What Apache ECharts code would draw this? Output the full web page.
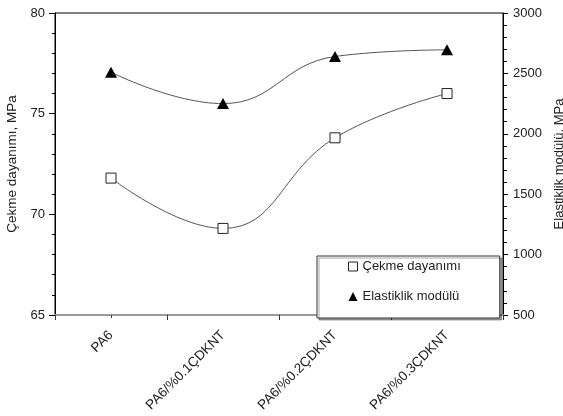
<!DOCTYPE html>
<html>
<head>
<meta charset="utf-8">
<script src="https://cdn.jsdelivr.net/npm/echarts@6/dist/echarts.min.js"></script>
<style>
html,body{margin:0;padding:0;background:#fff;}
#chart{width:563px;height:416px;}
</style>
</head>
<body>
<div id="chart"></div>
<script>
const categories = ['PA6', 'PA6/%0.1ÇDKNT', 'PA6/%0.2ÇDKNT', 'PA6/%0.3ÇDKNT'];
const cekmeDayanimi = [71.8, 69.3, 73.8, 76.0];
const elastiklikModulu = [2510, 2250, 2640, 2695];
const leftTicks = { min: 65, max: 80, interval: 5 };
const rightTicks = { min: 500, max: 3000, interval: 500 };
const seriesNames = ['Çekme dayanımı', 'Elastiklik modülü'];
const axisNames = ['Çekme dayanımı, MPa', 'Elastiklik modülü, MPa'];

const FONT = 'Liberation Sans, Arial, sans-serif';
const TXT = '#222';

const chart = echarts.init(document.getElementById('chart'), null, { renderer: 'canvas' });
chart.setOption({
  animation: false,
  backgroundColor: '#fff',
  textStyle: { fontFamily: FONT, color: TXT },
  grid: {
    left: 55, right: 60, top: 13, bottom: 101,
    containLabel: false, outerBoundsMode: 'none',
    show: true, borderColor: '#000', borderWidth: 1, backgroundColor: 'transparent'
  },
  legend: {
    orient: 'vertical',
    left: 317, top: 256,
    padding: [4, 39, 15, 31],
    itemGap: 17,
    itemWidth: 9, itemHeight: 9,
    backgroundColor: '#fff',
    borderColor: '#333', borderWidth: 1,
    shadowColor: 'rgba(0,0,0,0.35)', shadowOffsetX: 2, shadowOffsetY: 2, shadowBlur: 0,
    textStyle: { fontFamily: FONT, fontSize: 13, color: TXT },
    data: [
      { name: seriesNames[0], icon: 'rect', itemStyle: { color: '#fff', borderColor: '#222', borderWidth: 1 } },
      { name: seriesNames[1], icon: 'triangle', itemStyle: { color: '#000', borderWidth: 0 } }
    ]
  },
  xAxis: [{
    type: 'category',
    data: categories,
    boundaryGap: true,
    axisLine: { show: true, lineStyle: { color: '#999', width: 2 } },
    axisTick: { show: true, length: 5, lineStyle: { color: '#333' } },
    axisLabel: { rotate: 45, margin: 18, fontSize: 13.5, color: TXT, fontFamily: FONT, interval: 0, hideOverlap: false },
    splitLine: { show: false }
  }, {
    type: 'category',
    data: categories,
    position: 'bottom',
    boundaryGap: true,
    axisLine: { show: false },
    axisTick: { show: true, alignWithLabel: true, length: 3, lineStyle: { color: '#333' } },
    axisLabel: { show: false },
    splitLine: { show: false }
  }],
  yAxis: [{
    type: 'value',
    min: leftTicks.min, max: leftTicks.max, interval: leftTicks.interval,
    position: 'left',
    name: axisNames[0],
    nameLocation: 'middle',
    nameGap: 36,
    nameRotate: 90,
    nameTextStyle: { fontSize: 13.5, color: TXT, fontFamily: FONT },
    axisLine: { show: true, lineStyle: { color: '#000', width: 1 } },
    axisTick: { show: true, length: 6, lineStyle: { color: '#000' } },
    minorTick: { show: true, splitNumber: 5, length: 3, lineStyle: { color: '#000' } },
    axisLabel: { fontSize: 13, color: TXT, fontFamily: FONT, margin: 10, formatter: v => String(v) },
    splitLine: { show: false }
  }, {
    type: 'value',
    min: rightTicks.min, max: rightTicks.max, interval: rightTicks.interval,
    position: 'right',
    name: axisNames[1],
    nameLocation: 'middle',
    nameGap: 47,
    nameRotate: 90,
    nameTextStyle: { fontSize: 13, color: TXT, fontFamily: FONT },
    axisLine: { show: true, lineStyle: { color: '#000', width: 1 } },
    axisTick: { show: true, length: 5, lineStyle: { color: '#000' } },
    minorTick: { show: true, splitNumber: 5, length: 4, lineStyle: { color: '#000' } },
    axisLabel: { fontSize: 13, color: TXT, fontFamily: FONT, margin: 10, formatter: v => String(v) },
    splitLine: { show: false }
  }],
  series: [{
    name: seriesNames[0],
    type: 'line',
    xAxisIndex: 0,
    yAxisIndex: 0,
    data: cekmeDayanimi,
    smooth: 0.45,
    symbol: 'rect',
    symbolSize: 10,
    showSymbol: true,
    lineStyle: { color: '#555', width: 1 },
    itemStyle: { color: '#fff', borderColor: '#222', borderWidth: 1 },
    z: 3
  }, {
    name: seriesNames[1],
    type: 'line',
    xAxisIndex: 0,
    yAxisIndex: 1,
    data: elastiklikModulu,
    smooth: 0.45,
    symbol: 'triangle',
    symbolSize: [12, 11],
    showSymbol: true,
    lineStyle: { color: '#555', width: 1 },
    itemStyle: { color: '#000', borderWidth: 0 },
    z: 3
  }]
});
</script>
</body>
</html>
